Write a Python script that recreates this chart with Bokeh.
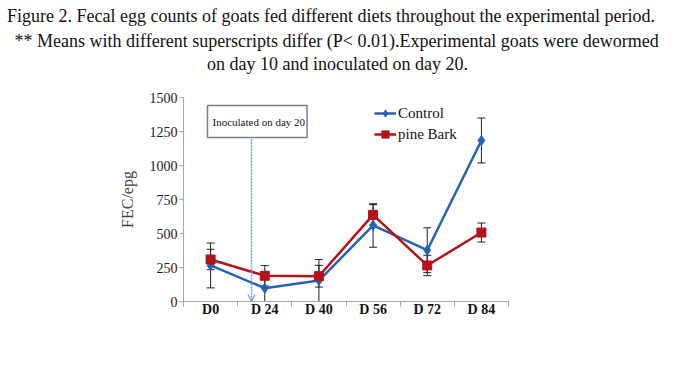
from bokeh.plotting import figure
from bokeh.models import (Range1d, FixedTicker, Label, Legend, LegendItem, Whisker,
                          ColumnDataSource, Arrow, OpenHead, TeeHead, Title)
from bokeh.embed import file_html
from bokeh.resources import INLINE

categories = ["D0", "D 24", "D 40", "D 56", "D 72", "D 84"]
control = [265, 98, 154, 559, 377, 1184]
control_err = [165, 98, 155, 160, 165, 165]
pine = [309, 189, 186, 637, 265, 507]
pine_err = [75, 75, 80, 75, 75, 70]
y_ticks = [0, 250, 500, 750, 1000, 1250, 1500]

title_lines = [
    "Figure 2. Fecal egg counts of goats fed different diets throughout the experimental period.",
    "** Means with different superscripts differ (P< 0.01).Experimental goats were dewormed",
    "on day 10 and inoculated on day 20.",
]
title_widths = [661, 646, 261]  # approx rendered widths (px) at 18px, for centring

SERIF = "Liberation Serif"
W, H = 675, 362
FL, FR, FT, FB = 183, 508, 97, 301  # frame in canvas px

p = figure(width=W, height=H, output_backend="svg", toolbar_location=None,
           x_range=Range1d(0, len(categories)), y_range=Range1d(0, 1500),
           min_border_left=FL, min_border_right=W - FR,
           min_border_top=FT, min_border_bottom=H - FB)
p.outline_line_color = None
p.xgrid.visible = False
p.ygrid.visible = False
p.background_fill_color = "white"
p.border_fill_color = "white"

xs = [i + 0.5 for i in range(len(categories))]

def dx(px):
    return (px - FL) / (FR - FL) * len(categories)

def dy(py):
    return (FB - py) / (FB - FT) * 1500

# axes
xa = p.xaxis[0]
xa.ticker = FixedTicker(ticks=xs, minor_ticks=list(range(len(categories) + 1)))
xa.major_label_overrides = {x: c for x, c in zip(xs, categories)}
xa.major_tick_line_color = None
xa.major_tick_out = 0
xa.minor_tick_out = 5
xa.minor_tick_in = 0
xa.minor_tick_line_color = "#a6a6a6"
xa.axis_line_color = "#a6a6a6"
xa.major_label_text_font = SERIF
xa.major_label_text_font_style = "bold"
xa.major_label_text_font_size = "14px"
xa.major_label_text_color = "#111111"
xa.major_label_standoff = -5

ya = p.yaxis[0]
ya.ticker = FixedTicker(ticks=y_ticks)
ya.minor_tick_line_color = None
ya.major_tick_out = 4
ya.major_tick_in = 0
ya.major_tick_line_color = "#a6a6a6"
ya.axis_line_color = "#a6a6a6"
ya.major_label_text_font = SERIF
ya.major_label_text_font_size = "14px"
ya.major_label_text_color = "#1a1a1a"
ya.major_label_standoff = 2
ya.axis_label = "FEC/epg"
ya.axis_label_text_font = SERIF
ya.axis_label_text_font_style = "normal"
ya.axis_label_text_font_size = "16px"
ya.axis_label_text_color = "#404040"
ya.axis_label_standoff = 11

src = ColumnDataSource(dict(
    x=xs, control=control, pine=pine,
    c_up=[v + e for v, e in zip(control, control_err)],
    c_lo=[max(v - e, 0) for v, e in zip(control, control_err)],
    p_up=[v + e for v, e in zip(pine, pine_err)],
    p_lo=[v - e for v, e in zip(pine, pine_err)],
))

BLUE = "#2462b4"
RED = "#b5121b"

for up, lo in (("c_up", "c_lo"), ("p_up", "p_lo")):
    w = Whisker(source=src, base="x", upper=up, lower=lo, line_color="#222222", line_width=1,
                upper_head=TeeHead(size=8, line_color="#222222", line_width=1),
                lower_head=TeeHead(size=8, line_color="#222222", line_width=1))
    p.add_layout(w)

cl = p.line("x", "control", source=src, line_color=BLUE, line_width=2.5)
cm = p.scatter("x", "control", source=src, marker="diamond", size=10,
               fill_color=BLUE, line_color=BLUE)
pl = p.line("x", "pine", source=src, line_color=RED, line_width=2.5)
pm = p.scatter("x", "pine", source=src, marker="square", size=9,
               fill_color=RED, line_color=RED)

legend = Legend(items=[LegendItem(label="Control", renderers=[cl, cm]),
                       LegendItem(label="pine Bark", renderers=[pl, pm])],
                location=(374 - FL, FB - 143), padding=0, margin=0, spacing=3,
                glyph_width=22, glyph_height=18, label_height=18, label_standoff=2,
                label_text_font=SERIF, label_text_font_size="15px",
                label_text_color="#111111",
                border_line_color=None, background_fill_alpha=0)
p.add_layout(legend, "center")

# annotation
p.add_layout(Arrow(x_start=dx(251), y_start=dy(139), x_end=dx(251), y_end=0,
                   line_color="#6a9bd8", line_width=1.5, line_dash="2 1",
                   end=OpenHead(size=7, line_color="#6a9bd8", line_width=1.2)))
p.add_layout(Label(x=dx(207), y=dy(121), text="Inoculated on day 20", text_font=SERIF,
                   text_font_size="11px", text_color="#111111", text_baseline="middle",
                   padding=dict(left=5, right=2, top=10, bottom=10),
                   border_line_color="#7f7f7f", border_line_width=1.5,
                   background_fill_color="white"))

# title block: spacer next to the frame, then lines from innermost outwards
p.add_layout(Title(text=" ", standoff=2, text_font=SERIF, text_font_size="18px"), "above")
for line, wdt, so in zip(reversed(title_lines), reversed(title_widths), [0, 2, 3]):
    p.add_layout(Title(text=line, align="left", offset=337 - wdt / 2 - FL, standoff=so,
                       text_font=SERIF, text_font_size="18px",
                       text_font_style="normal", text_color="#111111"), "above")

open("out.html", "w").write(file_html(p, INLINE))
